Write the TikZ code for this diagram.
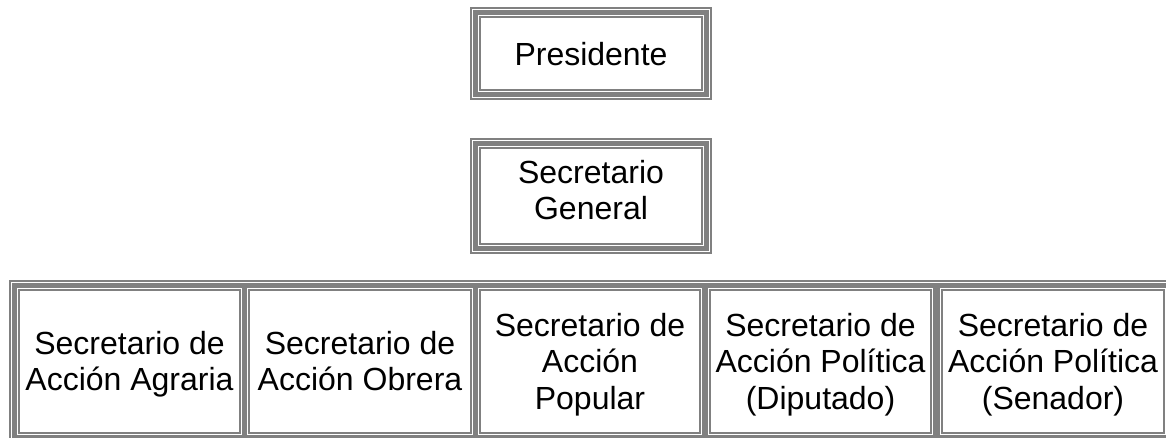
\documentclass[tikz,border=0pt]{standalone}
\usepackage{fontspec}
\setmainfont{Liberation Sans}
\definecolor{bgrey}{HTML}{808080}
\begin{document}
\begin{tikzpicture}[x=1pt,y=-1pt,
  lbl/.style={align=center,font=\fontsize{32}{36.5}\selectfont,inner sep=0pt,anchor=north},
  framefill/.style={fill=bgrey},
  frameline/.style={draw=white,line width=1pt},
  cellring/.style={draw=white,fill=white,line width=4pt},
  cellline/.style={draw=bgrey,line width=2pt},
]
\useasboundingbox (0,0) rectangle (1166,437);
\clip (0,0) rectangle (1166,437);
% Box 1: Presidente
\fill[framefill] (470,7) rectangle (712,100);
\draw[frameline] (472.5,9.5) rectangle (709.5,97.5);
\draw[cellring] (480,17) rectangle (702,90);
\draw[cellline] (480,17) rectangle (702,90);
\node[lbl] (pres) at (591,42.5) {Presidente};
% Box 2: Secretario General
\fill[framefill] (470,138) rectangle (712,254);
\draw[frameline] (472.5,140.5) rectangle (709.5,251.5);
\draw[cellring] (480,148) rectangle (702,244);
\draw[cellline] (480,148) rectangle (702,244);
\node[lbl] (sg) at (591,160) {Secretario\\General};
% Bottom table
\fill[framefill] (9,280) rectangle (1174,443);
\draw[frameline] (11.5,282.5) rectangle (1171.5,440.5);
\foreach \a/\b in {19/240,249/471,480/700,710/931,942/1164}{
  \draw[cellring] (\a,290) rectangle (\b,433);
  \draw[cellline] (\a,290) rectangle (\b,433);
}
\node[lbl] (agr) at (129.5,331) {Secretario de\\Acción Agraria};
\node[lbl] (obr) at (360,331) {Secretario de\\Acción Obrera};
\node[lbl] (pop) at (590,313) {Secretario de\\Acción\\Popular};
\node[lbl] (dip) at (820.5,313) {Secretario de\\Acción Política\\(Diputado)};
\node[lbl] (sen) at (1053,313) {Secretario de\\Acción Política\\(Senador)};
\end{tikzpicture}
\end{document}
